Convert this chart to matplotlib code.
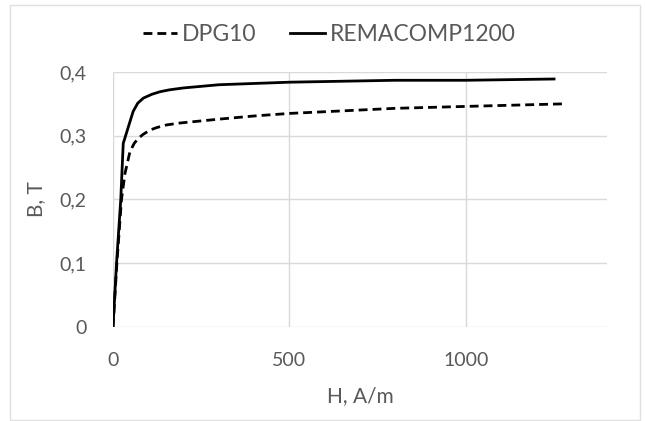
import matplotlib.pyplot as plt
from matplotlib.patches import Rectangle
from matplotlib.ticker import FuncFormatter

plt.rcParams["font.family"] = ["Lato", "DejaVu Sans"]

# B-H curves
h_dpg = [0, 11, 24, 34, 48, 60, 72, 85, 105, 125, 152, 190, 227, 300, 400, 500, 650, 800, 1000, 1275]
b_dpg = [0, 0.1, 0.2, 0.241, 0.275, 0.288, 0.296, 0.302, 0.309, 0.313, 0.317, 0.32, 0.322,
         0.326, 0.331, 0.335, 0.339, 0.343, 0.346, 0.35]

h_rema = [0, 10, 22, 29, 57, 70, 86, 110, 133, 160, 200, 300, 500, 800, 1000, 1250]
b_rema = [0, 0.1, 0.2, 0.288, 0.338, 0.351, 0.359, 0.365, 0.369, 0.372, 0.375, 0.38, 0.384,
          0.387, 0.387, 0.389]

grey = "#595959"

fig = plt.figure(figsize=(6.45, 4.21), dpi=100)
ax = fig.add_axes([0.1752, 0.2233, 0.7658, 0.6057])

ax.plot(h_dpg, b_dpg, color="black", lw=2.0, dashes=(3.2, 1.8), label="DPG10")
ax.plot(h_rema, b_rema, color="black", lw=2.0, label="REMACOMP1200")

ax.set_xlim(0, 1400)
ax.set_ylim(0, 0.4)
ax.set_xticks([0, 500, 1000])
ax.set_yticks([0, 0.1, 0.2, 0.3, 0.4])
ax.yaxis.set_major_formatter(FuncFormatter(lambda v, p: ("%g" % round(v, 1)).replace(".", ",")))
ax.grid(True, color="#d9d9d9", lw=1)
ax.set_axisbelow(True)
for s in ax.spines.values():
    s.set_visible(False)
ax.tick_params(length=0, labelsize=14, colors=grey)
ax.tick_params(axis="x", pad=18)
ax.tick_params(axis="y", pad=19)

ax.set_xlabel("H, A/m", fontsize=15, color=grey, labelpad=12)
ax.set_ylabel("B, T", fontsize=15, color=grey, labelpad=10)

fig.legend(loc="center", bbox_to_anchor=(0.51, 0.918), ncol=2, frameon=False,
           fontsize=16.5, labelcolor=grey, handlelength=1.5, handletextpad=0.2,
           columnspacing=1.5)

fig.patches.append(Rectangle((10 / 645, 1 / 421), 630 / 645, 415 / 421,
                             transform=fig.transFigure, fill=False,
                             edgecolor="#e0e0e0", lw=1))

fig.savefig("out.png", dpi=100)
